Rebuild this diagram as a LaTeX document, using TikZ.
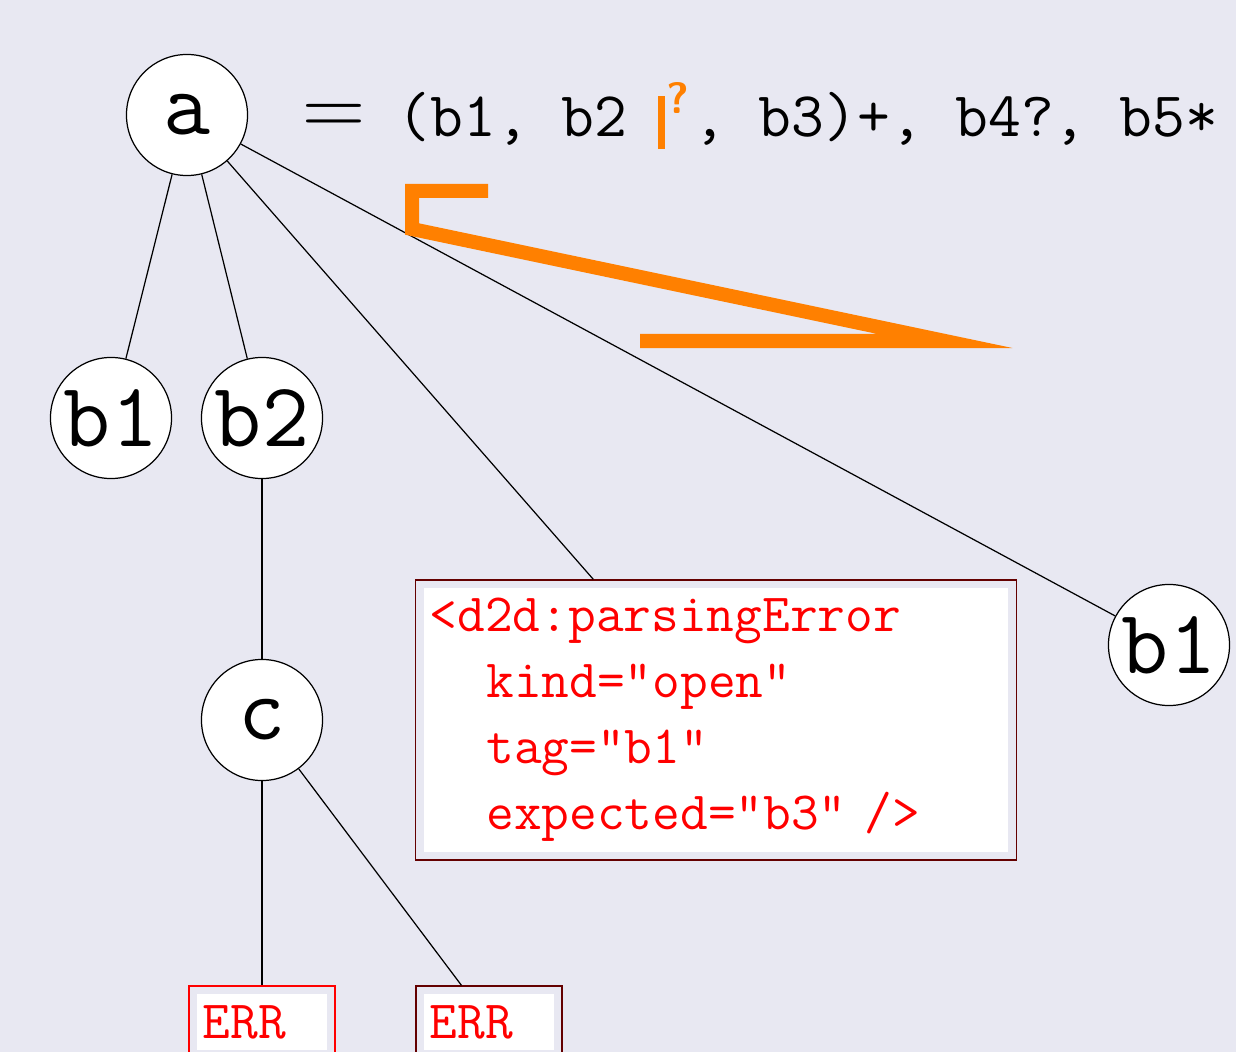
\documentclass[tikz,border=0pt]{standalone}
\usetikzlibrary{shapes}
\definecolor{bgcol}{RGB}{232,232,242}
\definecolor{markorange}{RGB}{255,128,0}
\definecolor{errdark}{RGB}{100,0,0}
\tikzstyle{elem}=[circle,draw,line width=0.35pt,fill=white,minimum size=1.21cm,inner sep=0pt,font=\fontsize{26}{30}\selectfont\ttfamily]
\tikzstyle{branch}=[line width=0.35pt]
\tikzstyle{errframe}=[rectangle,draw=errdark,line width=0.35pt,fill=bgcol,inner xsep=0.14cm,align=left,text=red,font=\fontsize{15.3}{18.8}\selectfont\ttfamily,
  path picture={\fill[white] ([shift={(0.08cm,0.08cm)}]path picture bounding box.south west) rectangle ([shift={(-0.08cm,-0.08cm)}]path picture bounding box.north east);}]
\tikzstyle{caretmark}=[markorange,line width=0.14cm,miter limit=15]

\begin{document}
\begin{tikzpicture}[x=0.01cm,y=-0.01cm]
  \path[use as bounding box,clip] (0,0) rectangle (1236,1052);
  \fill[bgcol] (0,0) rectangle (1236,1052);

  \node[elem] (a) at (187,115) {a};
  \node[elem] (b1) at (111,418) {b1};
  \node[elem] (b2) at (262,418) {b2};
  \node[elem] (c) at (262,720) {c};
  \node[elem] (b1r) at (1169,645) {b1};
  \node[errframe,minimum width=6cm,minimum height=2.8cm,text width=5.72cm] (perr) at (716,720)
    {<d2d:parsingError\\\hspace*{1.05em}kind="open"\\\hspace*{1.05em}tag="b1"\\\hspace*{1.05em}expected="b3" />};
  \node[errframe,draw=red,minimum width=1.46cm,minimum height=0.72cm,text width=1.18cm] (err1) at (262,1022) {ERR};
  \node[errframe,minimum width=1.46cm,minimum height=0.72cm,text width=1.18cm] (err2) at (489,1022) {ERR};

  \node[anchor=base,inner sep=0pt,font=\fontsize{26}{30}\selectfont] (eq) at (334,136) {$=$};
  \node[anchor=base west,inner sep=0pt,font=\fontsize{18.1}{20}\selectfont\ttfamily] (cm) at (397,137)
    {(b1, b2 \makebox[0.525em][l]{\hspace{-0.02cm}\textcolor{markorange}{\rule[-0.12cm]{0.07cm}{0.53cm}\hspace{0.02cm}\raisebox{0.23cm}{\fontsize{12.5}{12}\selectfont\sffamily\bfseries ?}}}, b3)+, b4?, b5*};

  \draw[branch] (a) -- (b1);
  \draw[branch] (a) -- (b2);
  \draw[branch] (a) -- (perr);
  \draw[branch] (a) -- (b1r);
  \draw[branch] (b2) -- (c);
  \draw[branch] (c) -- (err1);
  \draw[branch] (c) -- (err2);

  \draw[caretmark] (488,191) -- (412,191) -- (412,229) -- (945,341) -- (640,341);
\end{tikzpicture}
\end{document}
